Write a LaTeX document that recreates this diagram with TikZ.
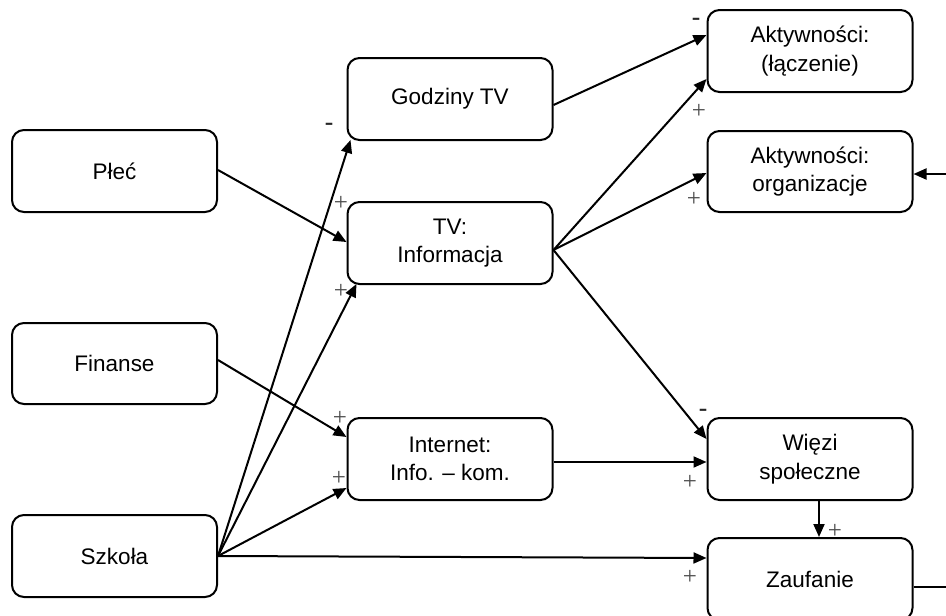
\documentclass[tikz,border=0pt]{standalone}
\usepackage{fontspec}
\setmainfont{Liberation Sans}
\newfontfamily\labserif{Liberation Serif}
\usetikzlibrary{arrows.meta,calc}
\tikzset{
  box/.style={draw, line width=2pt, rounded corners=12pt, minimum width=205pt, minimum height=82pt, inner sep=0pt, align=center, font=\fontsize{22.5}{28.5}\selectfont},
  conn/.style={line width=2pt, -{Triangle[length=13pt,width=11pt]}},
  plain/.style={line width=2pt},
  plus/.style={text=black!70, inner sep=0pt, font=\labserif\fontsize{25}{25}\selectfont},
  minus/.style={text=black!85, inner sep=0pt, font=\fontsize{27}{27}\selectfont}
}
\begin{document}
\begin{tikzpicture}[x=1pt,y=-1pt]
\useasboundingbox (0,0) rectangle (946,616);
% nodes
\node[box] (plec) at (114.5,171) {Płeć};
\node[box, minimum height=81pt] (finanse) at (114.5,363.5) {Finanse};
\node[box] (szkola) at (114.5,556) {Szkoła};
\node[box] (godziny) at (450,99) {Godziny TV};
\node[box] (tv) at (450,243) {TV:\\Informacja};
\node[box] (internet) at (450,459) {Internet:\\Info. – kom.};
\node[box] (akt1) at (810,51) {Aktywności:\\(łączenie)};
\node[box, minimum height=81pt] (akt2) at (810,171.5) {Aktywności:\\organizacje};
\node[box] (wiezi) at (810,459) {Więzi\\społeczne};
\node[box] (zauf) at (810,579) {Zaufanie};
\coordinate (inR) at (946,174);
\coordinate (outR) at (946,587);
% connectors
\draw[conn] ($(plec.east)+(0,-1)$) -- ($(tv.west)+(0,-1)$);
\draw[conn] ($(finanse.east)+(0,-3.5)$) -- ($(tv.west)+(0,194)$);
\draw[conn] (szkola.east) -- ($(godziny.south west)+(4,-1)$);
\draw[conn] (szkola.east) -- ($(tv.south west)+(10,-1)$);
\draw[conn] (szkola.east) -- ($(internet.west)+(0,29)$);
\draw[conn] (szkola.east) -- ($(zauf.west)+(0,-21)$);
\draw[conn] ($(godziny.east)+(0,6)$) -- ($(akt1.west)+(0,-16)$);
\draw[conn] ($(tv.east)+(0,7)$) -- ($(akt1.south west)+(0,-14)$);
\draw[conn] ($(tv.east)+(0,7)$) -- ($(akt2.west)+(0,1.5)$);
\draw[conn] ($(tv.east)+(0,7)$) -- ($(wiezi.west)+(0,-20)$);
\draw[conn] ($(internet.east)+(0,3)$) -- ($(wiezi.west)+(0,3)$);
\draw[conn] ($(wiezi.south)+(9,0)$) -- ($(zauf.north)+(9,0)$);
\draw[conn] (inR) -- (inR -| akt2.east);
\draw[plain] (outR -| zauf.east) -- (outR);
% labels
\node[minus] (m1) at (329,127) {-};
\node[plus] (p1) at (341,203) {+};
\node[plus] (p2) at (341,291) {+};
\node[plus] (p3) at (340,418) {+};
\node[plus] (p4) at (339,478) {+};
\node[minus] (m2) at (696,22) {-};
\node[plus] (p5) at (699,111) {+};
\node[plus] (p6) at (694,199) {+};
\node[minus] (m3) at (703,413) {-};
\node[plus] (p7) at (690,482) {+};
\node[plus] (p8) at (835,531) {+};
\node[plus] (p9) at (690,577) {+};
\end{tikzpicture}
\end{document}
